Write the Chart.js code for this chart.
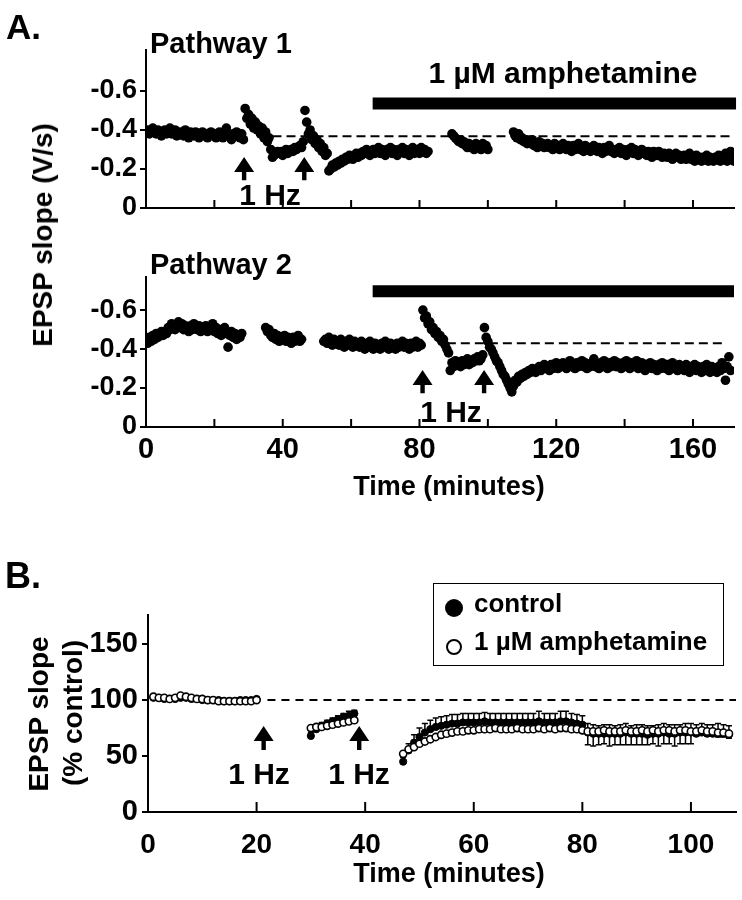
<!DOCTYPE html>
<html>
<head>
<meta charset="utf-8">
<script src="https://cdn.jsdelivr.net/npm/chart.js@4.4.0/dist/chart.umd.min.js"></script>
<style>
  body { margin: 0; background: #fff; }
  #fig {
    position: relative; width: 742px; height: 900px; overflow: hidden;
    font-family: "Liberation Sans", Arial, sans-serif; font-weight: bold; color: #000;
  }
  #fig canvas { position: absolute; left: 0; }
  .t { position: absolute; line-height: 1; white-space: nowrap; }
  .c { transform: translateX(-50%); }
  .rot { position: absolute; line-height: 1; white-space: nowrap; transform: translate(-50%, -50%) rotate(-90deg); }
  #legend { position: absolute; left: 433px; top: 583px; width: 291px; height: 83px; box-sizing: border-box; border: 1.5px solid #000; }
  .dot { position: absolute; border-radius: 50%; box-sizing: border-box; }
</style>
</head>
<body>
<div id="fig">
  <canvas id="p1" style="top:0" width="742" height="230"></canvas>
  <canvas id="p2" style="top:230px" width="742" height="270"></canvas>
  <canvas id="pb" style="top:500px" width="742" height="400"></canvas>

  <div class="t" style="left:6px;top:9px;font-size:35px">A.</div>
  <div class="t" style="left:150px;top:29px;font-size:29px">Pathway 1</div>
  <div class="t c" style="left:563px;top:58px;font-size:30px">1 µM amphetamine</div>
  <div class="t c" style="left:270px;top:180px;font-size:30px">1 Hz</div>
  <div class="t" style="left:150px;top:250px;font-size:29px">Pathway 2</div>
  <div class="t c" style="left:451px;top:397px;font-size:30px">1 Hz</div>
  <div class="rot" style="left:43px;top:235px;font-size:28px">EPSP slope (V/s)</div>
  <div class="t c" style="left:449px;top:473px;font-size:27px">Time (minutes)</div>

  <div class="t" style="left:5px;top:558px;font-size:36px">B.</div>
  <div class="rot" style="left:39px;top:714px;font-size:28px">EPSP slope</div>
  <div class="rot" style="left:73px;top:713px;font-size:28px">(% control)</div>
  <div class="t c" style="left:259px;top:759px;font-size:30px">1 Hz</div>
  <div class="t c" style="left:359px;top:759px;font-size:30px">1 Hz</div>
  <div class="t c" style="left:449px;top:860px;font-size:27px">Time (minutes)</div>
  <div id="legend"></div>
  <div class="dot" style="left:445px;top:599px;width:18px;height:18px;background:#000"></div>
  <div class="dot" style="left:446px;top:639px;width:16px;height:16px;border:2.5px solid #000;background:#fff"></div>
  <div class="t" style="left:474px;top:590px;font-size:26px">control</div>
  <div class="t" style="left:474px;top:628px;font-size:26px">1 µM amphetamine</div>
</div>

<script>
// ---- panel A, pathway 1 (V/s, sampled every 0.5 min)
const SAMPLE_MIN = 0.5
const p1Starts = [0, 89.5, 107.5]
const p1RunA = [
  -0.39,-0.40,-0.38,-0.39,-0.41,-0.39,-0.38,-0.40,-0.39,-0.37,
  -0.39,-0.40,-0.38,-0.39,-0.41,-0.38,-0.39,-0.40,-0.37,-0.39,
  -0.38,-0.39,-0.37,-0.40,-0.38,-0.36,-0.39,-0.38,-0.37,-0.39,
  -0.38,-0.36,-0.38,-0.39,-0.37,-0.38,-0.36,-0.38,-0.39,-0.37,
  -0.38,-0.36,-0.37,-0.39,-0.38,-0.36,-0.37,-0.41,-0.38,-0.37,
  -0.35,-0.38,-0.37,-0.39,-0.37,-0.36,-0.38,-0.35,-0.51,-0.46,
  -0.48,-0.43,-0.46,-0.41,-0.44,-0.40,-0.42,-0.38,-0.41,-0.36,
  -0.39,-0.34,-0.36,-0.30,-0.26,-0.27,-0.28,-0.29,-0.28,-0.29,
  -0.27,-0.29,-0.30,-0.28,-0.29,-0.30,-0.29,-0.31,-0.30,-0.31,
  -0.32,-0.31,-0.34,-0.50,-0.44,-0.38,-0.40,-0.35,-0.37,-0.33,
  -0.35,-0.31,-0.33,-0.29,-0.31,-0.27,-0.28,-0.19,-0.20,-0.22,
  -0.21,-0.23,-0.22,-0.24,-0.23,-0.25,-0.24,-0.26,-0.25,-0.27,
  -0.26,-0.25,-0.27,-0.28,-0.26,-0.28,-0.27,-0.29,-0.28,-0.30,
  -0.28,-0.27,-0.29,-0.30,-0.28,-0.29,-0.31,-0.28,-0.30,-0.29,
  -0.27,-0.30,-0.29,-0.31,-0.28,-0.30,-0.29,-0.27,-0.30,-0.29,
  -0.31,-0.28,-0.30,-0.29,-0.27,-0.30,-0.31,-0.28,-0.29,-0.30,
  -0.28,-0.31,-0.29,-0.30,-0.28,-0.29
]
const p1RunB = [
  -0.38,-0.37,-0.36,-0.35,-0.34,-0.35,-0.33,-0.34,-0.32,-0.31,
  -0.33,-0.31,-0.32,-0.30,-0.33,-0.31,-0.32,-0.30,-0.33,-0.31,
  -0.32,-0.30
]
const p1RunC = [
  -0.39,-0.37,-0.36,-0.38,-0.35,-0.36,-0.34,-0.35,-0.33,-0.34,
  -0.33,-0.35,-0.32,-0.33,-0.31,-0.34,-0.32,-0.33,-0.31,-0.32,
  -0.33,-0.31,-0.32,-0.30,-0.33,-0.31,-0.32,-0.30,-0.31,-0.33,
  -0.31,-0.30,-0.32,-0.31,-0.29,-0.32,-0.30,-0.31,-0.33,-0.30,
  -0.31,-0.29,-0.32,-0.30,-0.31,-0.29,-0.30,-0.32,-0.30,-0.29,
  -0.31,-0.30,-0.28,-0.31,-0.29,-0.30,-0.32,-0.29,-0.30,-0.28,
  -0.30,-0.29,-0.31,-0.28,-0.30,-0.29,-0.27,-0.30,-0.29,-0.31,
  -0.28,-0.30,-0.29,-0.27,-0.29,-0.30,-0.28,-0.29,-0.27,-0.29,
  -0.28,-0.26,-0.29,-0.28,-0.27,-0.29,-0.28,-0.26,-0.28,-0.27,
  -0.26,-0.28,-0.27,-0.25,-0.27,-0.28,-0.26,-0.27,-0.25,-0.26,
  -0.27,-0.25,-0.26,-0.28,-0.25,-0.26,-0.24,-0.27,-0.25,-0.26,
  -0.24,-0.26,-0.25,-0.27,-0.24,-0.26,-0.25,-0.24,-0.26,-0.25,
  -0.27,-0.24,-0.26,-0.25,-0.28,-0.24,-0.26,-0.29,-0.25,-0.24
]
const p1Baseline = { from: 37, to: 172, value: -0.368 }
const p1Drug = { from: 66.3, to: 172.6, value: -0.536 }
const p1Arrows = { x: [28.7, 46.3], tip: -0.261, base: -0.142 }

// ---- panel A, pathway 2
const p2Starts = [0, 35, 52]
const p2RunA = [
  -0.45,-0.43,-0.46,-0.44,-0.47,-0.45,-0.48,-0.46,-0.47,-0.49,
  -0.47,-0.49,-0.48,-0.51,-0.50,-0.53,-0.51,-0.50,-0.52,-0.54,
  -0.51,-0.53,-0.50,-0.52,-0.51,-0.49,-0.52,-0.50,-0.53,-0.51,
  -0.50,-0.52,-0.49,-0.51,-0.50,-0.52,-0.49,-0.51,-0.50,-0.53,
  -0.49,-0.51,-0.48,-0.50,-0.47,-0.49,-0.51,-0.48,-0.41,-0.47,
  -0.49,-0.46,-0.48,-0.45,-0.47,-0.46,-0.48
]
const p2RunB = [
  -0.51,-0.49,-0.50,-0.47,-0.46,-0.48,-0.45,-0.47,-0.44,-0.46,
  -0.45,-0.47,-0.44,-0.46,-0.45,-0.43,-0.46,-0.44,-0.45,-0.47,
  -0.44,-0.45
]
const p2RunC = [
  -0.44,-0.45,-0.43,-0.46,-0.44,-0.42,-0.45,-0.43,-0.44,-0.42,
  -0.45,-0.43,-0.41,-0.44,-0.42,-0.45,-0.43,-0.41,-0.44,-0.42,
  -0.43,-0.41,-0.44,-0.42,-0.40,-0.43,-0.41,-0.44,-0.42,-0.40,
  -0.43,-0.41,-0.42,-0.40,-0.43,-0.41,-0.44,-0.42,-0.40,-0.43,
  -0.41,-0.42,-0.40,-0.43,-0.41,-0.42,-0.44,-0.41,-0.43,-0.42,
  -0.40,-0.43,-0.41,-0.42,-0.44,-0.41,-0.43,-0.42,-0.60,-0.56,
  -0.57,-0.53,-0.54,-0.50,-0.51,-0.48,-0.49,-0.46,-0.47,-0.44,
  -0.45,-0.42,-0.40,-0.38,-0.29,-0.33,-0.31,-0.34,-0.32,-0.33,
  -0.31,-0.34,-0.32,-0.33,-0.35,-0.32,-0.34,-0.33,-0.35,-0.34,
  -0.36,-0.34,-0.35,-0.37,-0.51,-0.46,-0.44,-0.41,-0.40,-0.38,
  -0.36,-0.34,-0.33,-0.31,-0.29,-0.27,-0.26,-0.24,-0.22,-0.20,
  -0.18,-0.21,-0.24,-0.23,-0.26,-0.25,-0.27,-0.26,-0.28,-0.27,
  -0.29,-0.28,-0.30,-0.29,-0.28,-0.30,-0.31,-0.29,-0.30,-0.32,
  -0.30,-0.31,-0.29,-0.32,-0.30,-0.31,-0.33,-0.30,-0.32,-0.31,
  -0.33,-0.31,-0.30,-0.32,-0.34,-0.31,-0.32,-0.30,-0.33,-0.31,
  -0.32,-0.34,-0.31,-0.33,-0.30,-0.32,-0.31,-0.33,-0.35,-0.31,
  -0.32,-0.30,-0.33,-0.31,-0.34,-0.32,-0.30,-0.33,-0.31,-0.32,
  -0.34,-0.31,-0.33,-0.32,-0.30,-0.33,-0.31,-0.34,-0.32,-0.30,
  -0.33,-0.31,-0.32,-0.34,-0.30,-0.32,-0.33,-0.31,-0.29,-0.32,
  -0.31,-0.33,-0.30,-0.32,-0.31,-0.29,-0.32,-0.30,-0.33,-0.31,
  -0.30,-0.32,-0.29,-0.31,-0.33,-0.30,-0.31,-0.29,-0.32,-0.30,
  -0.31,-0.29,-0.32,-0.30,-0.28,-0.31,-0.30,-0.32,-0.29,-0.31,
  -0.30,-0.28,-0.31,-0.29,-0.32,-0.30,-0.28,-0.31,-0.29,-0.30,
  -0.28,-0.31,-0.29,-0.33,-0.30,-0.24,-0.31,-0.36,-0.29
]
const p2Baseline = { from: 88, to: 169.5, value: -0.43 }
const p2Drug = { from: 66.3, to: 172, value: -0.697 }
const p2Arrows = { x: [80.9, 98.9], tip: -0.292, base: -0.173 }

const aYTicks = [0, -0.2, -0.4, -0.6]
const aXLabels = [0, 40, 80, 120, 160]
const aXMarks = [20, 40, 60, 80, 100, 120, 140, 160]

// ---- panel B (% control, one point per minute)
const bStarts = [1, 30, 47]
const bCtrl = [
  [102,102,101,101,101,102,102,101,101,100,100,100,100,99,99,99,100,100,100,101],
  [68,74,77,79,81,83,85,86,88],
  [45,55,62,67,71,74,76,77,78,79,
   79,80,80,80,80,81,80,80,80,80,
   80,80,80,80,80,81,80,80,80,81,
   81,80,79,78,71,70,70,70,70,70,
   70,71,70,70,70,69,70,70,71,70,
   70,71,71,71,70,71,70,70,70,70,
   69]
]
const bCtrlErr = [
  [1,1,1,1,1,1,1,1,1,1,1,1,1,1,1,1,1,1,1,1],
  [3,3,3,3,3,3,3,4,3],
  [4,6,7,8,8,8,8,8,8,8,
   8,8,8,8,8,8,8,8,8,8,
   8,8,8,8,8,9,8,8,8,9,
   9,8,8,8,8,8,7,8,8,7,
   8,8,7,8,8,8,7,8,8,8,
   8,7,8,8,8,8,8,8,9,8,
   8]
]
const bAmph = [
  [103,102,102,101,102,104,103,102,101,101,100,100,99,99,99,99,99,99,99,100],
  [75,76,76,77,78,79,80,81,82],
  [52,56,58,61,63,65,67,69,70,71,
   72,72,73,73,74,74,74,75,74,74,
   74,75,74,74,74,75,74,75,74,75,
   75,74,74,73,72,72,72,73,72,72,
   72,73,72,72,73,72,73,72,73,73,
   72,73,73,72,72,73,72,72,71,71,
   70]
]
const bAmphErr = [
  [1,1,1,1,1,1,1,1,1,1,1,1,1,1,1,1,1,1,1,1],
  [2,2,2,2,2,2,2,2,2],
  [2,2,2,2,2,2,2,2,2,2,
   2,2,2,2,2,2,2,2,2,2,
   2,2,2,2,2,2,2,2,2,2,
   2,2,2,2,12,13,12,12,13,12,
   12,13,12,12,13,12,12,13,12,12,
   13,12,12,11,4,4,4,4,4,4,
   4]
]
const bBaseline = { from: 22, to: 108.3, value: 100 }
const bArrows = { x: [21.3, 38.9], tip: 76.8, base: 55.4 }
const bYTicks = [0, 50, 100, 150]
const bXLabels = [0, 20, 40, 60, 80, 100]
const bXMarks = [20, 40, 60, 80, 100]

const FONT = "'Liberation Sans', Arial, sans-serif"
Chart.defaults.font.family = FONT
Chart.defaults.font.weight = "bold"
Chart.defaults.color = "#000"

function runPoints(starts, runs, step) {
  const pts = []
  runs.forEach((vals, i) => {
    vals.forEach((v, j) => pts.push({ x: starts[i] + j * step, y: v }))
  })
  return pts
}

function errPoints(starts, runs, errs) {
  const pts = []
  runs.forEach((vals, i) => {
    vals.forEach((v, j) => pts.push({ x: starts[i] + j, y: v, e: errs[i][j] }))
  })
  return pts
}

function hLine(seg, width, dash) {
  return {
    data: [{ x: seg.from, y: seg.value }, { x: seg.to, y: seg.value }],
    showLine: true,
    borderColor: "#000",
    borderWidth: width,
    borderDash: dash || [],
    borderCapStyle: "butt",
    pointRadius: 0,
    clip: false
  }
}

// inward x tick marks, "1 Hz" arrows and one-sided error bars
function decor(cfg) {
  return {
    id: "decor",
    beforeDatasetsDraw(chart) {
      const { ctx, scales: { x, y } } = chart
      ;(cfg.errorBars || []).forEach(eb => {
        ctx.save()
        ctx.strokeStyle = "#000"
        ctx.lineWidth = 1.5
        eb.pts.forEach(p => {
          const px = x.getPixelForValue(p.x)
          const y0 = y.getPixelForValue(p.y)
          const y1 = y.getPixelForValue(p.y + eb.dir * p.e)
          ctx.beginPath()
          ctx.moveTo(px, y0)
          ctx.lineTo(px, y1)
          ctx.moveTo(px - 3, y1)
          ctx.lineTo(px + 3, y1)
          ctx.stroke()
        })
        ctx.restore()
      })
    },
    afterDraw(chart) {
      const { ctx, chartArea, scales: { x, y } } = chart
      ctx.save()
      ctx.strokeStyle = "#000"
      ctx.fillStyle = "#000"
      ctx.lineWidth = 2
      cfg.xMarks.forEach(v => {
        const px = x.getPixelForValue(v)
        ctx.beginPath()
        ctx.moveTo(px, chartArea.bottom)
        ctx.lineTo(px, chartArea.bottom - cfg.markLen)
        ctx.stroke()
      })
      const a = cfg.arrows
      a.x.forEach(v => {
        const px = x.getPixelForValue(v)
        const tip = y.getPixelForValue(a.tip)
        const base = y.getPixelForValue(a.base)
        const hh = 15, hw = 10, sw = 2.2
        ctx.beginPath()
        ctx.moveTo(px, tip)
        ctx.lineTo(px + hw, tip + hh)
        ctx.lineTo(px + sw, tip + hh)
        ctx.lineTo(px + sw, base)
        ctx.lineTo(px - sw, base)
        ctx.lineTo(px - sw, tip + hh)
        ctx.lineTo(px - hw, tip + hh)
        ctx.closePath()
        ctx.fill()
      })
      ctx.restore()
    }
  }
}

function yScale(opts) {
  return {
    type: "linear",
    min: opts.min,
    max: opts.max,
    reverse: !!opts.reverse,
    afterBuildTicks: s => { s.ticks = opts.ticks.map(v => ({ value: v })) },
    afterFit: s => { s.width = opts.width },
    ticks: {
      font: { size: opts.fontSize, weight: "bold" },
      color: "#000",
      padding: opts.pad,
      callback: opts.fmt
    },
    grid: { drawOnChartArea: false, tickLength: 6, color: "#000", lineWidth: 2 },
    border: { color: "#000", width: 2 }
  }
}

function xScale(opts) {
  return {
    type: "linear",
    min: opts.min,
    max: opts.max,
    afterBuildTicks: s => { s.ticks = opts.labels.map(v => ({ value: v })) },
    afterFit: s => { s.height = opts.height },
    ticks: {
      display: opts.labels.length > 0,
      font: { size: opts.fontSize, weight: "bold" },
      color: "#000",
      padding: opts.pad,
      maxRotation: 0,
      autoSkip: false
    },
    grid: { display: false, drawTicks: false },
    border: { color: "#000", width: 2 }
  }
}

function baseOptions(padding, scales) {
  return {
    responsive: false,
    animation: false,
    devicePixelRatio: 1,
    events: [],
    layout: { padding },
    plugins: { legend: { display: false }, tooltip: { enabled: false } },
    scales
  }
}

const aFmt = v => (v === 0 ? "0" : v.toFixed(1))

new Chart(document.getElementById("p1"), {
  type: "scatter",
  data: {
    datasets: [
      {
        data: runPoints(p1Starts, [p1RunA, p1RunB, p1RunC], SAMPLE_MIN),
        pointRadius: 4.8,
        backgroundColor: "#000",
        borderWidth: 0
      },
      hLine(p1Baseline, 2, [9, 5]),
      hLine(p1Drug, 12)
    ]
  },
  options: baseOptions({ top: 50, right: 8, left: 0, bottom: 0 }, {
    x: xScale({ min: 0, max: 172, labels: [], height: 22 }),
    y: yScale({ min: -0.81, max: 0, reverse: true, ticks: aYTicks, width: 146, fontSize: 27, pad: 3, fmt: aFmt })
  }),
  plugins: [decor({ xMarks: aXMarks, markLen: 8, arrows: p1Arrows })]
})

new Chart(document.getElementById("p2"), {
  type: "scatter",
  data: {
    datasets: [
      {
        data: runPoints(p2Starts, [p2RunA, p2RunB, p2RunC], SAMPLE_MIN),
        pointRadius: 4.8,
        backgroundColor: "#000",
        borderWidth: 0
      },
      hLine(p2Baseline, 2, [9, 5]),
      hLine(p2Drug, 12)
    ]
  },
  options: baseOptions({ top: 47, right: 8, left: 0, bottom: 0 }, {
    x: xScale({ min: 0, max: 172, labels: aXLabels, height: 73, fontSize: 29, pad: 6 }),
    y: yScale({ min: -0.77, max: 0, reverse: true, ticks: aYTicks, width: 146, fontSize: 27, pad: 3, fmt: aFmt })
  }),
  plugins: [decor({ xMarks: aXMarks, markLen: 8, arrows: p2Arrows })]
})

const ctrlPts = errPoints(bStarts, bCtrl, bCtrlErr)
const amphPts = errPoints(bStarts, bAmph, bAmphErr)

new Chart(document.getElementById("pb"), {
  type: "scatter",
  data: {
    datasets: [
      {
        label: "1 µM amphetamine",
        data: amphPts,
        order: 0,
        pointRadius: 3.6,
        backgroundColor: "#fff",
        borderColor: "#000",
        borderWidth: 1.6
      },
      {
        label: "control",
        data: ctrlPts,
        order: 1,
        pointRadius: 3.6,
        backgroundColor: "#000",
        borderColor: "#000",
        borderWidth: 1
      },
      Object.assign(hLine(bBaseline, 2, [8, 6]), { order: 2 })
    ]
  },
  options: baseOptions({ top: 115, right: 6, left: 0, bottom: 0 }, {
    x: xScale({ min: 0, max: 108.3, labels: bXLabels, height: 88, fontSize: 28, pad: 16 }),
    y: yScale({ min: 0, max: 176, ticks: bYTicks, width: 148, fontSize: 29, pad: 4, fmt: v => String(v) })
  }),
  plugins: [decor({
    xMarks: bXMarks,
    markLen: 10,
    arrows: bArrows,
    errorBars: [{ pts: ctrlPts, dir: 1 }, { pts: amphPts, dir: -1 }]
  })]
})
</script>
</body>
</html>
